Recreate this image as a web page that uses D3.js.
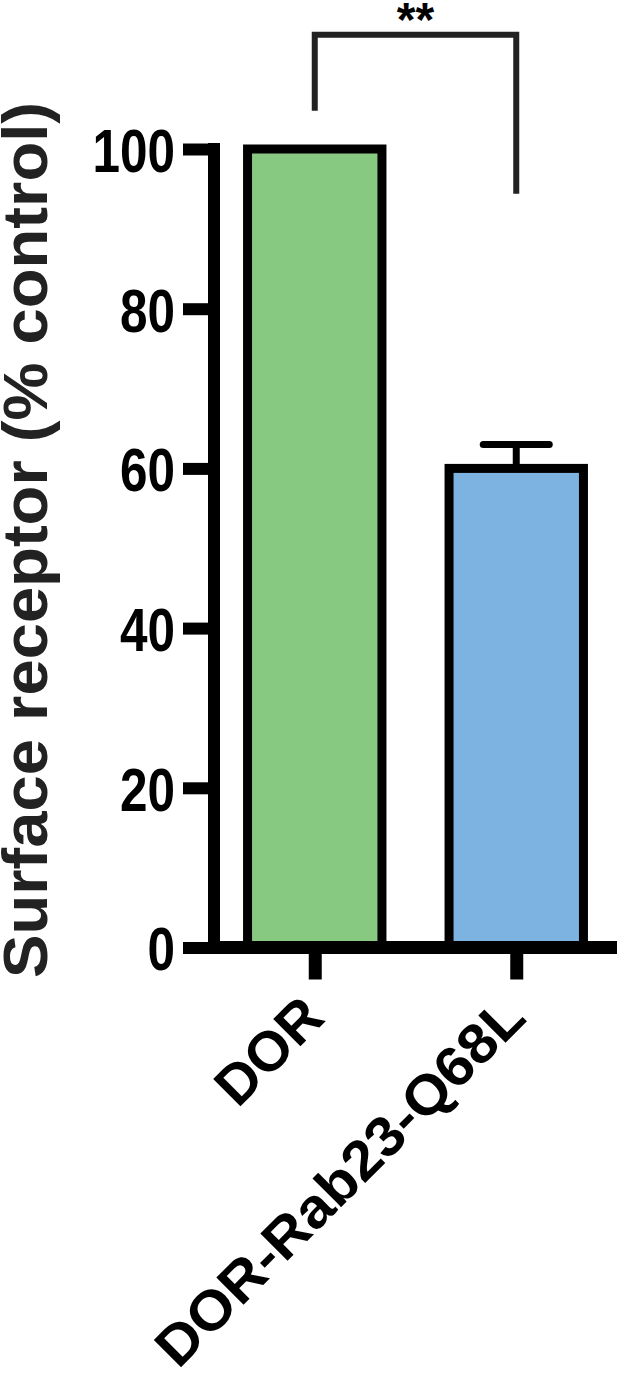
<!DOCTYPE html>
<html>
<head>
<meta charset="utf-8">
<script src="https://cdn.jsdelivr.net/npm/d3@7"></script>
<style>
    body { margin: 0; background: #fff; }
    svg text { font-family: "Liberation Sans", Arial, sans-serif; font-weight: bold; }
</style>
</head>
<body>
<div id="chart"></div>
<script>
// data
var categories = ["DOR", "DOR-Rab23-Q68L"];
var means = [100, 60];
var errors = [0, 3];
var barColors = ["#88c982", "#7db3e0"];
var yTicks = [0, 20, 40, 60, 80, 100];
var bracketValues = [114.3, 104.8, 94.4]; // top, left leg end, right leg end
var sigLabel = "**";

var width = 617, height = 1385;

var svg = d3.select("#chart")
    .append("svg")
    .attr("width", width)
    .attr("height", height);

// scales
var y = d3.scaleLinear()
    .domain([0, 100])
    .range([947.5, 149]);

var x = d3.scalePoint()
    .domain(categories)
    .range([214, 617])
    .padding(0.5);

var barWidth = x.step() * 0.667;

// bars
svg.selectAll(".bar")
    .data(categories)
    .enter()
    .append("rect")
    .attr("class", "bar")
    .attr("x", function(d) { return x(d) - barWidth / 2; })
    .attr("y", function(d, i) { return y(means[i]); })
    .attr("width", barWidth)
    .attr("height", function(d, i) { return y(0) - y(means[i]); })
    .attr("fill", function(d, i) { return barColors[i]; })
    .attr("stroke", "#000")
    .attr("stroke-width", 9);

// error bars (upper only)
categories.forEach(function(c, i) {
    if (!errors[i]) return;
    svg.append("line")
        .attr("x1", x(c)).attr("x2", x(c))
        .attr("y1", y(means[i]))
        .attr("y2", y(means[i] + errors[i]))
        .attr("stroke", "#000")
        .attr("stroke-width", 7);
    svg.append("line")
        .attr("x1", x(c) - 33).attr("x2", x(c) + 33)
        .attr("y1", y(means[i] + errors[i]))
        .attr("y2", y(means[i] + errors[i]))
        .attr("stroke", "#000")
        .attr("stroke-width", 7)
        .attr("stroke-linecap", "round");
});

// y axis
var yAxis = d3.axisLeft(y)
    .tickValues(yTicks)
    .tickSize(31)
    .tickSizeOuter(0)
    .tickPadding(8);

var yg = svg.append("g")
    .attr("transform", "translate(214,0)")
    .call(yAxis);

yg.select(".domain")
    .attr("d", "M0," + (y(100) - 6) + "V" + (y(0) + 6))
    .attr("stroke", "#000")
    .attr("stroke-width", 12);
yg.selectAll(".tick line")
    .attr("stroke", "#000")
    .attr("stroke-width", 12);
yg.selectAll(".tick text")
    .attr("fill", "#000")
    .style("font-size", "62px")
    .attr("dy", "0.36em")
    .attr("textLength", function(d) { return String(d).length * 27.5; })
    .attr("lengthAdjust", "spacingAndGlyphs");

// x axis
var xAxis = d3.axisBottom(x)
    .tickSize(32)
    .tickSizeOuter(0)
    .tickFormat("");

var xg = svg.append("g")
    .attr("transform", "translate(0," + y(0) + ")")
    .call(xAxis);

xg.select(".domain")
    .attr("d", "M208,0H" + width)
    .attr("stroke", "#000")
    .attr("stroke-width", 13);
xg.selectAll(".tick line")
    .attr("stroke", "#000")
    .attr("stroke-width", 13);

// rotated category labels
var labelLengths = [126, 495];
svg.selectAll(".xlabel")
    .data(categories)
    .enter()
    .append("text")
    .attr("class", "xlabel")
    .attr("transform", function(d) { return "translate(" + (x(d) + 12) + ",1020) rotate(-45)"; })
    .attr("text-anchor", "end")
    .style("font-size", "56px")
    .attr("textLength", function(d, i) { return labelLengths[i]; })
    .attr("lengthAdjust", "spacingAndGlyphs")
    .text(function(d) { return d; });

// y axis title
svg.append("text")
    .attr("transform", "translate(47,540) rotate(-90)")
    .attr("text-anchor", "middle")
    .style("font-size", "63px")
    .attr("fill", "#222")
    .attr("textLength", 876)
    .attr("lengthAdjust", "spacingAndGlyphs")
    .text("Surface receptor (% control)");

// significance bracket
var x0 = x(categories[0]), x1 = x(categories[1]);
svg.append("path")
    .attr("d", "M" + x0 + "," + y(bracketValues[1]) +
        "V" + y(bracketValues[0]) +
        "H" + x1 +
        "V" + y(bracketValues[2]))
    .attr("fill", "none")
    .attr("stroke", "#222")
    .attr("stroke-width", 6);

svg.append("text")
    .attr("x", (x0 + x1) / 2)
    .attr("y", 36)
    .attr("text-anchor", "middle")
    .style("font-size", "48px")
    .text(sigLabel);
</script>
</body>
</html>
